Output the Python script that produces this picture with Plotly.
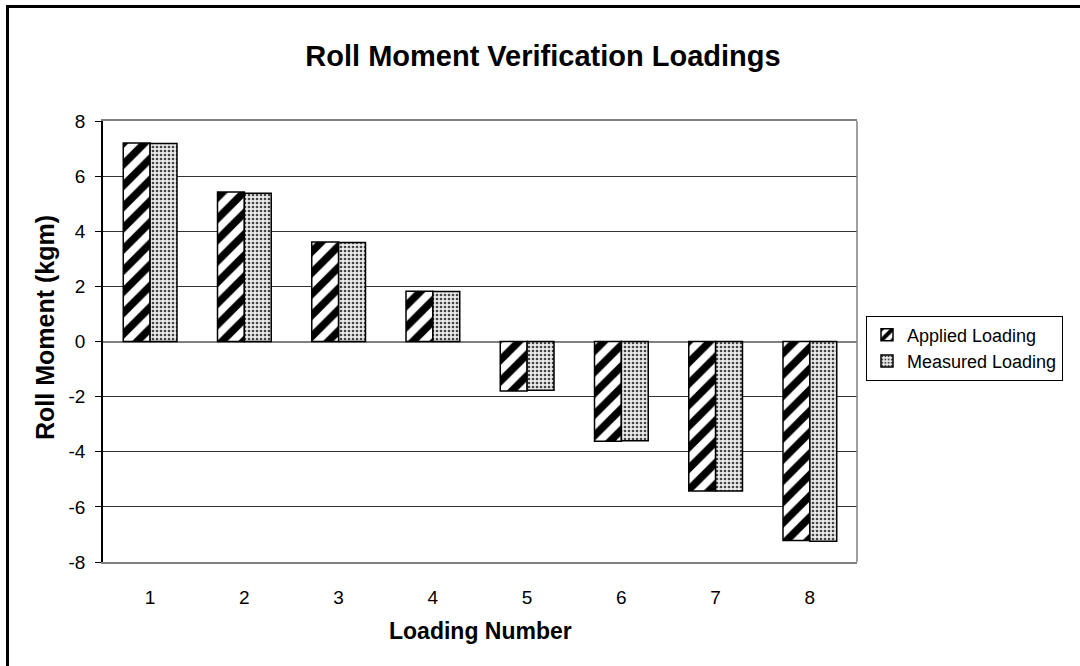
import plotly.graph_objects as go

# Loading cases and roll moments (kgm)
loadings = [1, 2, 3, 4, 5, 6, 7, 8]
applied = [7.2, 5.42, 3.61, 1.82, -1.8, -3.62, -5.42, -7.22]
measured = [7.18, 5.38, 3.59, 1.81, -1.77, -3.6, -5.42, -7.25]
y_ticks = [-8, -6, -4, -2, 0, 2, 4, 6, 8]

FONT = "Liberation Sans, Arial, sans-serif"
W, H = 1080, 666
L, R, T, B = 103, 857, 121, 562

fig = go.Figure()
fig.add_trace(go.Bar(
    x=loadings, y=applied, name="Applied Loading",
    marker=dict(color="white",
                line=dict(color="black", width=1.5),
                pattern=dict(shape="/", fgcolor="black", bgcolor="white",
                             fgopacity=1, size=15, solidity=0.5)),
))
fig.add_trace(go.Bar(
    x=loadings, y=measured, name="Measured Loading",
    marker=dict(color="#e6e6e6",
                line=dict(color="black", width=1.5),
                pattern=dict(shape=".", fgcolor="#444444", bgcolor="#ebebeb",
                             fgopacity=1, size=4, solidity=0.35)),
))

# category boundary ticks sitting on the zero line
boundaries = [(a + b) / 2 for a, b in zip(loadings[:-1], loadings[1:])]

fig.update_layout(
    width=W, height=H,
    margin=dict(l=L, r=W - R, t=T, b=H - B, pad=0, autoexpand=False),
    paper_bgcolor="white", plot_bgcolor="white",
    font=dict(family=FONT, color="black", size=19),
    barmode="group", bargap=0.43, bargroupgap=0,
    showlegend=True,
    legend=dict(x=(866 - L) / (R - L), xanchor="left",
                y=(B - 348) / (B - T), yanchor="middle",
                bordercolor="black", borderwidth=1, bgcolor="white",
                font=dict(family=FONT, size=18, color="black"),
                tracegroupgap=0, itemwidth=30),
    title=dict(text="<b>Roll Moment Verification Loadings</b>",
               x=543 / W, xanchor="center", y=1 - 56 / H, yanchor="middle",
               font=dict(family=FONT, size=29, color="black")),
    xaxis=dict(range=[0.5, 8.5], tickvals=loadings,
               ticktext=[str(v) for v in loadings],
               ticks="", showgrid=False, zeroline=False,
               showline=True, linecolor="#808080", linewidth=1.5, mirror=True,
               ticklabelstandoff=17,
               tickfont=dict(family=FONT, size=19, color="black")),
    xaxis2=dict(range=[0.5, 8.5], overlaying="x", anchor="free", position=0.5,
                tickvals=boundaries, ticks="outside", ticklen=6,
                tickcolor="black", tickwidth=1,
                showticklabels=False, showgrid=False, zeroline=False,
                showline=False),
    yaxis=dict(range=[-8, 8], tickvals=y_ticks,
               ticktext=[str(v) for v in y_ticks],
               showgrid=True, gridcolor="#333333", gridwidth=1,
               zeroline=True, zerolinecolor="#808080", zerolinewidth=1.5,
               showline=True, linecolor="black", linewidth=1.5,
               ticks="outside", ticklen=6, tickcolor="black",
               ticklabelstandoff=6,
               tickfont=dict(family=FONT, size=19, color="black")),
    annotations=[
        dict(text="<b>Loading Number</b>", xref="paper", yref="paper",
             x=0.5, y=-(631 - B) / (B - T), xanchor="center", yanchor="middle",
             showarrow=False, font=dict(family=FONT, size=23, color="black")),
        dict(text="<b>Roll Moment (kgm)</b>", xref="paper", yref="paper",
             x=-(L - 45) / (R - L), y=(B - 328) / (B - T),
             xanchor="center", yanchor="middle",
             textangle=-90, showarrow=False,
             font=dict(family=FONT, size=25, color="black")),
    ],
    shapes=[
        dict(type="line", xref="paper", yref="paper", x0=1, x1=1, y0=0, y1=1,
             line=dict(color="#808080", width=1.5)),
        dict(type="rect", xref="paper", yref="paper",
             x0=-(L - 7.5) / (R - L), x1=2.0,
             y0=-1.0, y1=(B - 6.5) / (B - T),
             line=dict(color="black", width=3)),
    ],
)

fig.write_html("out.html")
